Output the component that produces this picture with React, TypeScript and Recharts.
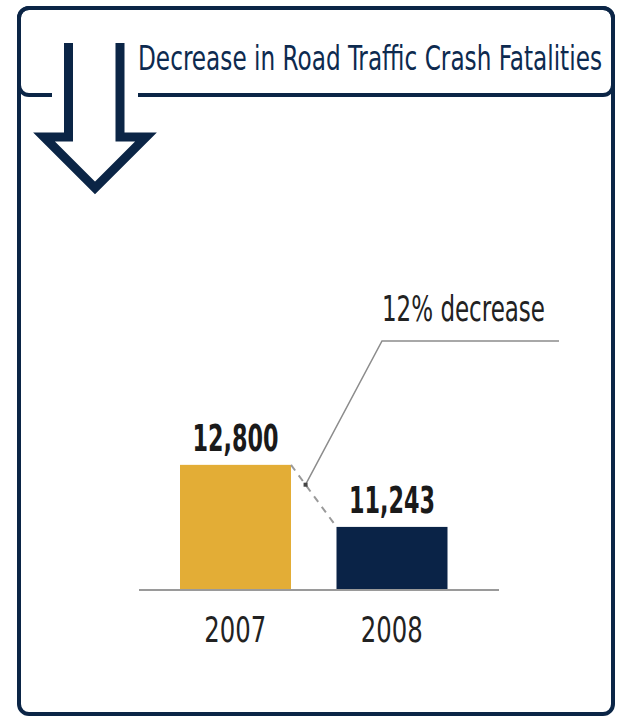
import React from "react";
import { BarChart, Bar, XAxis, YAxis, LabelList } from "recharts";

// datos del gráfico
const years = ["2007", "2008"];
const fatalities = [12800, 11243];
const valueLabels = ["12,800", "11,243"];
const barColors = ["#E3AD36", "#0A2347"];
const title = "Decrease in Road Traffic Crash Fatalities";
const note = "12% decrease";

const data = years.map((y, i) => ({ year: y, total: fatalities[i], label: valueLabels[i] }));

const NAVY = "#0B2546";
const FONT = "'Liberation Sans Narrow', 'DejaVu Sans Condensed', 'Roboto Condensed', Roboto, sans-serif";

// guardamos la posición de cada barra para dibujar el conector
const tops: { x: number; y: number; w: number }[] = [];

function BarShape(props: any) {
  const { x, y, width, height, index } = props;
  tops[index] = { x, y, w: width };
  let extra = null;
  if (index === 1 && tops[0]) {
    const a = { x: tops[0].x + tops[0].w, y: tops[0].y };
    const b = { x, y };
    const t = 0.32;
    const p = { x: a.x + (b.x - a.x) * t, y: a.y + (b.y - a.y) * t };
    const elbow = { x: 382, y: 341 };
    extra = (
      <g>
        <line x1={a.x} y1={a.y} x2={b.x} y2={b.y} stroke="#9a9a9a" strokeWidth={2} strokeDasharray="7 6" />
        <polyline
          points={`${p.x},${p.y} ${elbow.x},${elbow.y} 559,${elbow.y}`}
          fill="none"
          stroke="#8c8c8c"
          strokeWidth={1.5}
        />
        <rect x={p.x - 2} y={p.y - 2} width={4} height={4} fill="#444" />
        <text x={elbow.x} y={321} fontFamily={FONT} fontSize={36} fill="#222" textLength={163} lengthAdjust="spacingAndGlyphs">
          {note}
        </text>
      </g>
    );
  }
  return (
    <g>
      <rect x={x} y={y} width={width} height={height} fill={barColors[index]} />
      {extra}
    </g>
  );
}

function ValueLabel(props: any) {
  const { x, y, width, index } = props;
  return (
    <text
      x={x + width / 2}
      y={y - 14}
      textAnchor="middle"
      fontFamily={FONT}
      fontWeight={700}
      fontSize={37}
      fill="#1a1a1a"
      textLength={86}
      lengthAdjust="spacingAndGlyphs"
    >
      {valueLabels[index]}
    </text>
  );
}

function YearTick(props: any) {
  const { x, y, payload } = props;
  return (
    <text
      x={x}
      y={y}
      dy={52}
      textAnchor="middle"
      fontFamily={FONT}
      fontSize={35}
      fill="#222"
      textLength={62}
      lengthAdjust="spacingAndGlyphs"
    >
      {payload.value}
    </text>
  );
}

export default function App() {
  return (
    <div style={{ position: "absolute", left: 0, top: 0, width: 617, height: 717, overflow: "hidden", background: "#fff" }}>
      <BarChart
        width={617}
        height={717}
        data={data}
        margin={{ top: 425, right: 118, bottom: 57, left: 139 }}
      >
        <XAxis
          dataKey="year"
          height={70}
          padding={{ left: 18, right: 29 }}
          axisLine={{ stroke: "#9a9a9a", strokeWidth: 2 }}
          tickLine={false}
          tickSize={0}
          tickMargin={0}
          tick={<YearTick />}
        />
        <YAxis hide domain={[9660, 13800]} />
        <Bar dataKey="total" barSize={111} shape={<BarShape />} isAnimationActive={false}>
          <LabelList dataKey="label" content={<ValueLabel />} />
        </Bar>
      </BarChart>

      <svg width={617} height={717} style={{ position: "absolute", left: 0, top: 0, pointerEvents: "none" }}>
        <rect x={19} y={8} width={594} height={87} rx={10} fill="none" stroke={NAVY} strokeWidth={4} />
        <rect x={19} y={8} width={594} height={706} rx={10} fill="none" stroke={NAVY} strokeWidth={4} />
        <rect x={52} y={90} width={86} height={10} fill="#fff" />
        <path
          d="M 68.5 43 V 137 H 44 L 95 188 L 146 137 H 120 V 43"
          fill="#fff"
          stroke={NAVY}
          strokeWidth={9}
          strokeLinejoin="miter"
        />
        <text x={138} y={70} fontFamily={FONT} fontSize={34} fill="#0D2A4F" textLength={464} lengthAdjust="spacingAndGlyphs">
          {title}
        </text>
      </svg>
    </div>
  );
}
